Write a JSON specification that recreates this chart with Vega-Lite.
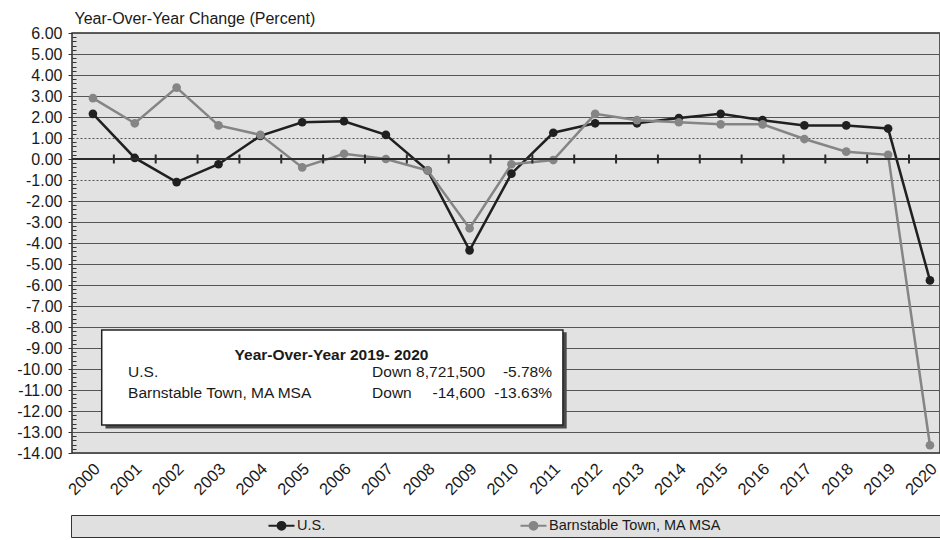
{
  "$schema": "https://vega.github.io/schema/vega-lite/v6.json",
  "autosize": "none",
  "padding": {"left": 72, "top": 33, "right": 0, "bottom": 87},
  "width": 868,
  "height": 420,
  "background": "white",
  "config": {
    "font": "Liberation Sans",
    "view": {"fill": "#e2e2e2", "stroke": "#2b2b2b", "strokeWidth": 1.5},
    "axis": {"labelFont": "Liberation Sans", "titleFont": "Liberation Sans", "labelColor": "#1a1a1a", "titleColor": "#1a1a1a"}
  },
  "datasets": {
    "employment": [
      {"year": 2000, "series": "U.S.", "value": 2.15},
      {"year": 2001, "series": "U.S.", "value": 0.05},
      {"year": 2002, "series": "U.S.", "value": -1.1},
      {"year": 2003, "series": "U.S.", "value": -0.25},
      {"year": 2004, "series": "U.S.", "value": 1.1},
      {"year": 2005, "series": "U.S.", "value": 1.75},
      {"year": 2006, "series": "U.S.", "value": 1.8},
      {"year": 2007, "series": "U.S.", "value": 1.15},
      {"year": 2008, "series": "U.S.", "value": -0.55},
      {"year": 2009, "series": "U.S.", "value": -4.35},
      {"year": 2010, "series": "U.S.", "value": -0.7},
      {"year": 2011, "series": "U.S.", "value": 1.25},
      {"year": 2012, "series": "U.S.", "value": 1.7},
      {"year": 2013, "series": "U.S.", "value": 1.7},
      {"year": 2014, "series": "U.S.", "value": 1.95},
      {"year": 2015, "series": "U.S.", "value": 2.15},
      {"year": 2016, "series": "U.S.", "value": 1.85},
      {"year": 2017, "series": "U.S.", "value": 1.6},
      {"year": 2018, "series": "U.S.", "value": 1.6},
      {"year": 2019, "series": "U.S.", "value": 1.45},
      {"year": 2020, "series": "U.S.", "value": -5.78},
      {"year": 2000, "series": "Barnstable Town, MA MSA", "value": 2.9},
      {"year": 2001, "series": "Barnstable Town, MA MSA", "value": 1.7},
      {"year": 2002, "series": "Barnstable Town, MA MSA", "value": 3.4},
      {"year": 2003, "series": "Barnstable Town, MA MSA", "value": 1.6},
      {"year": 2004, "series": "Barnstable Town, MA MSA", "value": 1.15},
      {"year": 2005, "series": "Barnstable Town, MA MSA", "value": -0.4},
      {"year": 2006, "series": "Barnstable Town, MA MSA", "value": 0.25},
      {"year": 2007, "series": "Barnstable Town, MA MSA", "value": 0.0},
      {"year": 2008, "series": "Barnstable Town, MA MSA", "value": -0.55},
      {"year": 2009, "series": "Barnstable Town, MA MSA", "value": -3.3},
      {"year": 2010, "series": "Barnstable Town, MA MSA", "value": -0.25},
      {"year": 2011, "series": "Barnstable Town, MA MSA", "value": -0.05},
      {"year": 2012, "series": "Barnstable Town, MA MSA", "value": 2.15},
      {"year": 2013, "series": "Barnstable Town, MA MSA", "value": 1.85},
      {"year": 2014, "series": "Barnstable Town, MA MSA", "value": 1.75},
      {"year": 2015, "series": "Barnstable Town, MA MSA", "value": 1.65},
      {"year": 2016, "series": "Barnstable Town, MA MSA", "value": 1.65},
      {"year": 2017, "series": "Barnstable Town, MA MSA", "value": 0.95},
      {"year": 2018, "series": "Barnstable Town, MA MSA", "value": 0.35},
      {"year": 2019, "series": "Barnstable Town, MA MSA", "value": 0.2},
      {"year": 2020, "series": "Barnstable Town, MA MSA", "value": -13.63}
    ],
    "yearEdges": [
      {"edge": 2000.5}, {"edge": 2001.5}, {"edge": 2002.5}, {"edge": 2003.5}, {"edge": 2004.5},
      {"edge": 2005.5}, {"edge": 2006.5}, {"edge": 2007.5}, {"edge": 2008.5}, {"edge": 2009.5},
      {"edge": 2010.5}, {"edge": 2011.5}, {"edge": 2012.5}, {"edge": 2013.5}, {"edge": 2014.5},
      {"edge": 2015.5}, {"edge": 2016.5}, {"edge": 2017.5}, {"edge": 2018.5}, {"edge": 2019.5}
    ]
  },
  "layer": [
    {
      "data": {"name": "employment"},
      "mark": {"type": "line", "strokeWidth": 2.5, "point": {"filled": true, "size": 75, "opacity": 1}},
      "encoding": {
        "x": {
          "field": "year", "type": "quantitative",
          "scale": {"domain": [1999.5, 2020.24], "nice": false, "zero": false},
          "axis": {
            "title": null, "domain": false, "ticks": false, "grid": false, "tickCount": 50,
            "values": [2000, 2001, 2002, 2003, 2004, 2005, 2006, 2007, 2008, 2009, 2010, 2011, 2012, 2013, 2014, 2015, 2016, 2017, 2018, 2019, 2020],
            "format": "d", "labelAngle": -45, "labelAlign": "right", "labelBaseline": "middle",
            "labelFontSize": 16.5, "labelPadding": 13, "labelOffset": 4,
            "labelOverlap": false, "labelFlush": false, "labelBound": false
          }
        },
        "y": {
          "field": "value", "type": "quantitative",
          "scale": {"domain": [-14, 6], "nice": false, "zero": false},
          "axis": {
            "title": "Year-Over-Year Change (Percent)",
            "titleAngle": 0, "titleAlign": "left", "titleBaseline": "alphabetic",
            "titleX": 2, "titleY": -10, "titleFontSize": 16, "titleFontWeight": "normal",
            "domain": false, "labelFontSize": 16, "labelPadding": 6,
            "labelOverlap": false, "labelFlush": false, "labelBound": false,
            "tickCount": 200,
            "values": [-14,-13.8,-13.6,-13.4,-13.2,-13,-12.8,-12.6,-12.4,-12.2,-12,-11.8,-11.6,-11.4,-11.2,-11,-10.8,-10.6,-10.4,-10.2,-10,-9.8,-9.6,-9.4,-9.2,-9,-8.8,-8.6,-8.4,-8.2,-8,-7.8,-7.6,-7.4,-7.2,-7,-6.8,-6.6,-6.4,-6.2,-6,-5.8,-5.6,-5.4,-5.2,-5,-4.8,-4.6,-4.4,-4.2,-4,-3.8,-3.6,-3.4,-3.2,-3,-2.8,-2.6,-2.4,-2.2,-2,-1.8,-1.6,-1.4,-1.2,-1,-0.8,-0.6,-0.4,-0.2,0,0.2,0.4,0.6,0.8,1,1.2,1.4,1.6,1.8,2,2.2,2.4,2.6,2.8,3,3.2,3.4,3.6,3.8,4,4.2,4.4,4.6,4.8,5,5.2,5.4,5.6,5.8,6],
            "labelExpr": "abs(datum.value - round(datum.value)) < 0.01 ? (datum.value < -0.01 ? '-' : '') + format(abs(datum.value), '.2f') : ''",
            "tickColor": "#333333",
            "tickSize": {"condition": {"test": "abs(datum.value - round(datum.value)) < 0.01", "value": 4}, "value": -4},
            "grid": true, "gridColor": "#555555", "gridWidth": 1,
            "gridOpacity": {"condition": {"test": "abs(datum.value - round(datum.value)) < 0.01", "value": 1}, "value": 0},
            "gridDash": {"condition": {"test": "abs(abs(datum.value) - 1) < 0.01", "value": [2, 2]}, "value": []}
          }
        },
        "color": {
          "field": "series", "type": "nominal",
          "scale": {"domain": ["U.S.", "Barnstable Town, MA MSA"], "range": ["#202020", "#858585"]},
          "legend": {
            "orient": "none", "legendX": -1, "legendY": 482, "direction": "horizontal",
            "title": " ", "titleOrient": "right", "titlePadding": 235,
            "fillColor": "#e0e0e0", "strokeColor": "#333333", "padding": 3,
            "symbolType": "M-2,0L2,0M-0.6,0A0.6,0.6 0 1,0 0.6,0A0.6,0.6 0 1,0 -0.6,0Z",
            "symbolSize": 169, "symbolStrokeWidth": 2, "symbolOffset": 200,
            "labelOffset": 8, "columnPadding": -3, "labelLimit": 300,
            "labelFont": "Liberation Sans", "labelFontSize": 14.5, "labelColor": "#1a1a1a",
            "encode": {"symbols": {"update": {"fill": {"scale": "color", "field": "value"}, "stroke": {"scale": "color", "field": "value"}}}}
          }
        }
      }
    },
    {
      "data": {"values": [{"level": 0}]},
      "mark": {"type": "rule", "color": "#2b2b2b", "strokeWidth": 2},
      "encoding": {"y": {"field": "level", "type": "quantitative"}}
    },
    {
      "data": {"name": "yearEdges"},
      "mark": {"type": "tick", "orient": "vertical", "color": "#2b2b2b", "thickness": 2, "size": 9, "opacity": 1},
      "encoding": {
        "x": {"field": "edge", "type": "quantitative"},
        "y": {"datum": 0, "type": "quantitative"}
      }
    },
    {
      "data": {"values": [{}]},
      "mark": {"type": "rect", "fill": "#4a4a4a"},
      "encoding": {
        "x": {"datum": 2000.3, "type": "quantitative"},
        "x2": {"datum": 2011.32},
        "y": {"datum": -8.25, "type": "quantitative"},
        "y2": {"datum": -12.83}
      }
    },
    {
      "data": {"values": [{}]},
      "mark": {"type": "rect", "fill": "white", "stroke": "#222222", "strokeWidth": 1.5},
      "encoding": {
        "x": {"datum": 2000.21, "type": "quantitative"},
        "x2": {"datum": 2011.23},
        "y": {"datum": -8.14, "type": "quantitative"},
        "y2": {"datum": -12.67}
      }
    },
    {
      "data": {"values": [{"label": "Year-Over-Year 2019- 2020", "pos": -9.33}]},
      "mark": {"type": "text", "font": "Liberation Sans", "fontSize": 15.5, "fontWeight": "bold", "align": "center", "baseline": "middle", "color": "#1a1a1a"},
      "encoding": {
        "x": {"datum": 2005.7, "type": "quantitative"},
        "y": {"field": "pos", "type": "quantitative"},
        "text": {"field": "label"}
      }
    },
    {
      "data": {"values": [
        {"area": "U.S.", "direction": "Down", "change": "8,721,500", "pct": "-5.78%", "pos": -10.14},
        {"area": "Barnstable Town, MA MSA", "direction": "Down", "change": "-14,600", "pct": "-13.63%", "pos": -11.14}
      ]},
      "encoding": {"y": {"field": "pos", "type": "quantitative"}},
      "layer": [
        {
          "mark": {"type": "text", "font": "Liberation Sans", "fontSize": 15.5, "align": "left", "baseline": "middle", "color": "#1a1a1a"},
          "encoding": {"x": {"datum": 2000.84, "type": "quantitative"}, "text": {"field": "area"}}
        },
        {
          "mark": {"type": "text", "font": "Liberation Sans", "fontSize": 15.5, "align": "left", "baseline": "middle", "color": "#1a1a1a"},
          "encoding": {"x": {"datum": 2006.67, "type": "quantitative"}, "text": {"field": "direction"}}
        },
        {
          "mark": {"type": "text", "font": "Liberation Sans", "fontSize": 15.5, "align": "right", "baseline": "middle", "color": "#1a1a1a"},
          "encoding": {"x": {"datum": 2009.37, "type": "quantitative"}, "text": {"field": "change"}}
        },
        {
          "mark": {"type": "text", "font": "Liberation Sans", "fontSize": 15.5, "align": "right", "baseline": "middle", "color": "#1a1a1a"},
          "encoding": {"x": {"datum": 2010.97, "type": "quantitative"}, "text": {"field": "pct"}}
        }
      ]
    }
  ]
}
